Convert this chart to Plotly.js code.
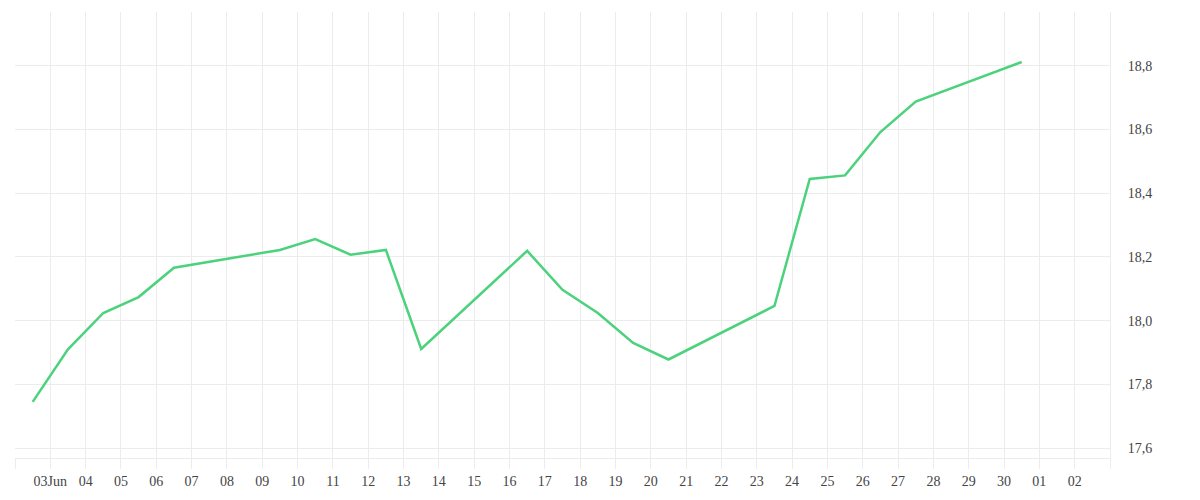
<!DOCTYPE html>
<html>
<head>
<meta charset="utf-8">
<script src="https://cdn.plot.ly/plotly-3.0.1.min.js"></script>
<style>html,body{margin:0;padding:0;background:#fff;}#chart{width:1200px;height:500px;}</style>
</head>
<body>
<div id="chart"></div>
<script>
const dates = ['2024-06-03','2024-06-04','2024-06-05','2024-06-06','2024-06-07',
  '2024-06-10','2024-06-11','2024-06-12','2024-06-13','2024-06-14',
  '2024-06-17','2024-06-18','2024-06-19','2024-06-20','2024-06-21',
  '2024-06-24','2024-06-25','2024-06-26','2024-06-27','2024-06-28',
  '2024-07-01'];
const values = [17.745,17.910,18.024,18.074,18.166,
  18.222,18.256,18.207,18.222,17.911,
  18.219,18.097,18.024,17.930,17.878,
  18.046,18.445,18.456,18.592,18.688,
  18.812];
const tickLabels = ['', '03Jun','04','05','06','07','08','09','10','11','12','13','14','15','16',
  '17','18','19','20','21','22','23','24','25','26','27','28','29','30','01','02',''];

// tick positions: midday of each day starting 2 June 2024
const tickVals = tickLabels.map((_, i) => {
  const d = new Date(Date.UTC(2024, 5, 2 + i, 12, 0, 0));
  return d.toISOString().slice(0, 19).replace('T', ' ');
});

const gridCol = '#ececec';
const font = {family: 'Liberation Serif, serif', size: 14, color: '#444'};

Plotly.newPlot('chart', [{
  x: dates,
  y: values,
  type: 'scatter',
  mode: 'lines',
  line: {color: '#4cd27c', width: 2.5},
  hoverinfo: 'skip'
}], {
  width: 1200, height: 500,
  margin: {l: 15, r: 90, t: 12, b: 42},
  paper_bgcolor: '#fff', plot_bgcolor: '#fff',
  separators: ',.',
  showlegend: false,
  font: font,
  xaxis: {
    type: 'date',
    range: [tickVals[0], tickVals[tickVals.length - 1]],
    tickmode: 'array', tickvals: tickVals, ticktext: tickLabels,
    showgrid: true, gridcolor: gridCol, gridwidth: 1,
    ticks: 'outside', ticklen: 10, tickcolor: gridCol, tickwidth: 1,
    showline: true, linecolor: gridCol, linewidth: 1,
    zeroline: false, tickfont: font
  },
  yaxis: {
    side: 'right',
    range: [17.5687, 18.969],
    dtick: 0.2, tick0: 17.6, tickformat: '.1f',
    showgrid: true, gridcolor: gridCol, gridwidth: 1,
    ticks: '', ticklabelstandoff: 14,
    showline: true, linecolor: gridCol, linewidth: 1,
    zeroline: false, tickfont: font
  }
}, {displayModeBar: false, staticPlot: true});
</script>
</body>
</html>
